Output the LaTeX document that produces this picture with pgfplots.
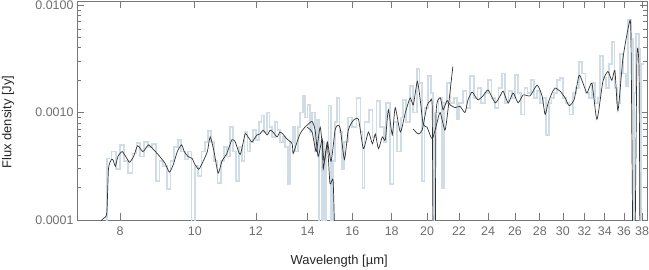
\documentclass[border=0pt]{standalone}
\usepackage{fontspec}
\setmainfont{Liberation Sans}
\usepackage{pgfplots}
\pgfplotsset{compat=1.18}
\definecolor{specblue}{RGB}{208,221,230}
\definecolor{axgray}{RGB}{120,120,120}
\definecolor{tickgray}{RGB}{110,110,110}
\definecolor{linegray}{RGB}{50,50,50}
\begin{document}
\begin{tikzpicture}
\begin{axis}[
  scale only axis, width=570bp, height=219bp,
  xmode=log, ymode=log,
  xmin=7.035, xmax=38.57, ymin=1e-4, ymax=0.0109,
  axis line style={axgray, line width=0.8pt},
  every tick/.style={axgray, line width=0.7pt},
  tick align=inside,
  major tick length=7bp, minor tick length=4.5bp,
  xtick={8,10,12,14,16,18,20,22,24,26,28,30,32,34,36,38},
  xticklabels={8,10,12,14,16,18,20,22,24,26,28,30,32,34,36,38},
  xminorticks=false,
  ytick={0.0001,0.001,0.01},
  yticklabels={0.0001,0.0010,0.0100},
  minor ytick={2e-4,3e-4,4e-4,5e-4,6e-4,7e-4,8e-4,9e-4,2e-3,3e-3,4e-3,5e-3,6e-3,7e-3,8e-3,9e-3},
  tick label style={font=\fontsize{12.5}{14}\selectfont, text=tickgray},
  xticklabel style={yshift=-3bp},
  label style={font=\fontsize{13}{15}\selectfont, text=black!85},
  xlabel={Wavelength [µm]},
  ylabel={Flux density [Jy]},
  xlabel style={at={(axis description cs:0.46,-0.187)}, anchor=center},
  ylabel style={at={(axis description cs:-0.121,0.447)}, anchor=center},
  clip=true,
]
% light blue binned spectrum
\addplot[const plot, specblue, line width=1.8pt] coordinates {
(7.60,8e-5)(7.70,3.73e-4)(7.80,4.33e-4)(7.90,2.97e-4)(8.00,5.01e-4)(8.10,3.51e-4)(8.20,2.73e-4)
(8.30,4.15e-4)(8.40,5.23e-4)(8.50,3.90e-4)(8.60,5.34e-4)(8.70,4.81e-4)(8.80,5.12e-4)(8.90,2.31e-4)
(9.00,3.51e-4)(9.10,3.16e-4)(9.20,1.95e-4)(9.30,3.51e-4)(9.40,4.81e-4)(9.50,5.57e-4)(9.60,4.33e-4)
(9.70,3.66e-4)(9.80,4.33e-4)(9.90,8e-5)(10.00,3.16e-4)(10.10,2.56e-4)(10.20,4.33e-4)(10.30,5.34e-4)
(10.40,6.72e-4)(10.50,5.34e-4)(10.60,3.51e-4)(10.70,2.21e-4)(10.80,3.51e-4)(10.90,4.81e-4)
(11.00,3.90e-4)(11.10,7.31e-4)(11.20,4.33e-4)(11.30,2.31e-4)(11.40,4.81e-4)(11.50,3.51e-4)
(11.60,6.58e-4)(11.70,4.33e-4)(11.80,5.34e-4)(11.90,6.86e-4)(12.00,5.57e-4)(12.10,8.11e-4)
(12.20,9.4e-4)(12.30,6.58e-4)(12.40,1.00e-3)(12.50,7.31e-4)(12.60,5.93e-4)(12.70,8.11e-4)
(12.80,6.86e-4)(12.90,5.34e-4)(13.00,5.93e-4)(13.10,4.81e-4)(13.20,2.17e-4)(13.30,5.34e-4)
(13.40,7.31e-4)(13.50,4.33e-4)(13.60,7.31e-4)(13.70,1.00e-3)(13.80,1.43e-3)(13.90,9.0e-4)
(14.00,1.18e-3)(14.10,6.58e-4)(14.20,1.00e-3)(14.30,4.33e-4)(14.40,8.45e-4)(14.50,8e-5)
(14.60,5.34e-4)(14.70,8e-5)(14.80,4.33e-4)(14.90,1.16e-3)(15.00,8e-5)(15.10,3.51e-4)
(15.20,8.11e-4)(15.30,1.37e-3)(15.40,6.58e-4)(15.50,2.97e-4)(15.60,5.34e-4)(15.80,9.0e-4)
(16.00,7.31e-4)(16.20,1.37e-3)(16.40,6.58e-4)(16.50,1.99e-4)(16.60,8.11e-4)(16.80,1.06e-3)
(17.00,5.93e-4)(17.20,1.29e-3)(17.40,7.31e-4)(17.60,5.34e-4)(17.70,1.23e-3)(17.90,2.17e-4)
(18.10,8.11e-4)(18.30,4.33e-4)(18.50,9.0e-4)(18.60,1.31e-3)(18.80,8.11e-4)(19.00,1.76e-3)
(19.20,1.00e-3)(19.40,2.56e-3)(19.55,1.87e-3)(19.70,2.31e-4)(19.85,1.11e-3)(20.05,2.17e-3)
(20.25,1.52e-3)(20.35,8e-5)(20.50,1.00e-3)(20.70,1.37e-3)(20.90,1.99e-4)(21.05,1.23e-3)
(21.25,1.87e-3)(21.45,1.23e-3)(21.65,1.37e-3)(21.85,8.64e-4)(22.00,1.23e-3)(22.25,1.58e-3)
(22.50,1.11e-3)(22.75,2.17e-3)(23.00,1.37e-3)(23.25,1.69e-3)(23.50,1.23e-3)(23.75,1.52e-3)
(24.00,2.00e-3)(24.25,1.37e-3)(24.50,1.11e-3)(24.75,1.69e-3)(25.00,2.31e-3)(25.25,1.23e-3)
(25.50,1.58e-3)(25.75,1.37e-3)(26.00,2.22e-3)(26.25,1.52e-3)(26.50,9.59e-4)(26.75,1.69e-3)
(27.00,1.52e-3)(27.25,2.00e-3)(27.50,1.37e-3)(27.75,1.58e-3)(28.00,1.23e-3)(28.25,1.37e-3)
(28.50,6.18e-4)(28.75,1.23e-3)(29.00,1.37e-3)(29.25,1.52e-3)(29.50,2.00e-3)(29.75,2.08e-3)
(30.00,1.37e-3)(30.30,1.23e-3)(30.60,9.59e-4)(30.90,1.52e-3)(31.20,1.69e-3)(31.50,2.97e-3)
(31.80,2.31e-3)(32.10,1.52e-3)(32.40,1.37e-3)(32.70,1.87e-3)(33.00,1.23e-3)(33.30,1.37e-3)
(33.50,3.37e-3)(33.80,2.08e-3)(34.10,1.69e-3)(34.40,2.85e-3)(34.70,4.51e-3)(35.00,1.69e-3)
(35.30,1.23e-3)(35.60,3.51e-3)(35.90,2.31e-3)(36.20,1.76e-3)(36.45,7.31e-3)(36.75,4.81e-3)
(36.95,8e-5)(37.15,1.52e-3)(37.35,5.34e-3)(37.65,3.90e-3)(37.75,8e-5)(37.90,2.85e-3)(38.20,2.85e-3)
};
% dark smoothed spectrum, short module
\addplot[linegray, line width=0.7pt, smooth, tension=0.35] coordinates {
(7.40,5e-5)(7.55,9.5e-5)(7.62,1.04e-4)(7.69,1.16e-4)(7.73,3.03e-4)(7.80,3.66e-4)(7.84,3.58e-4)
(7.89,3.16e-4)(7.95,3.90e-4)(8.05,4.33e-4)(8.18,3.66e-4)(8.23,3.44e-4)(8.33,3.90e-4)(8.43,4.91e-4)
(8.56,4.33e-4)(8.63,4.61e-4)(8.71,5.01e-4)(8.84,4.52e-4)(8.96,4.07e-4)(9.07,3.66e-4)(9.15,3.37e-4)
(9.27,2.79e-4)(9.38,3.30e-4)(9.49,4.33e-4)(9.61,5.01e-4)(9.69,4.33e-4)(9.80,3.90e-4)(9.92,3.73e-4)
(10.00,3.30e-4)(10.12,2.97e-4)(10.25,3.51e-4)(10.38,4.33e-4)(10.47,5.93e-4)(10.59,4.33e-4)
(10.72,2.73e-4)(10.84,3.51e-4)(11.00,4.15e-4)(11.17,5.57e-4)(11.28,5.34e-4)(11.45,4.07e-4)
(11.62,6.32e-4)(11.72,5.93e-4)(11.86,5.34e-4)(12.04,6.19e-4)(12.15,6.32e-4)(12.26,6.86e-4)
(12.41,6.19e-4)(12.52,6.86e-4)(12.63,6.58e-4)(12.78,5.93e-4)(12.89,6.58e-4)(13.00,6.32e-4)
(13.16,5.69e-4)(13.37,5.12e-4)(13.41,4.15e-4)(13.57,5.34e-4)(13.69,6.32e-4)(13.82,7.01e-4)
(13.98,7.62e-4)(14.19,8.27e-4)(14.32,6.86e-4)(14.45,3.90e-4)(14.63,5.69e-4)(14.67,2.97e-4)
(14.85,5.01e-4)(14.97,2.17e-4)(15.11,2.31e-4)(15.20,5e-5)
};
% dark smoothed spectrum, long module 2
\addplot[linegray, line width=0.7pt, smooth, tension=0.35] coordinates {
(13.98,7.3e-4)(14.19,6.58e-4)(14.37,4.33e-4)(14.54,7.31e-4)(14.71,3.51e-4)(14.85,5.34e-4)
(15.02,3.51e-4)(15.20,6.86e-4)(15.33,7.62e-4)(15.44,7.01e-4)(15.63,3.66e-4)(15.81,6.86e-4)
(16.05,8.45e-4)(16.30,8.63e-4)(16.54,4.61e-4)(16.79,6.58e-4)(16.99,5.12e-4)(17.14,6.32e-4)
(17.30,4.61e-4)(17.50,5.93e-4)(17.66,5.57e-4)(17.82,1.06e-3)(18.03,6.19e-4)(18.19,1.11e-3)
(18.47,6.58e-4)(18.75,1.00e-3)(19.02,1.37e-3)(19.20,1.18e-3)(19.43,1.95e-3)(19.60,1.31e-3)
(19.77,7.77e-4)(20.00,7.31e-4)(20.31,5.69e-4)(20.61,8.11e-4)(20.80,1.00e-3)(21.10,6.86e-4)
(21.29,1.06e-3)(21.60,2.67e-3)
};
% dark smoothed spectrum, long module 1
\addplot[linegray, line width=0.7pt, smooth, tension=0.35] coordinates {
(19.20,7.01e-4)(19.48,6.32e-4)(19.71,6.86e-4)(20.00,1.16e-3)(20.18,1.27e-3)(20.31,1.11e-3)
(20.37,5e-5)(20.49,5e-5)(20.55,1.00e-3)(20.80,1.37e-3)(20.98,1.06e-3)(21.23,1.29e-3)
(21.42,1.18e-3)(21.74,1.11e-3)(22.07,1.14e-3)(22.40,1.00e-3)(22.60,1.31e-3)(22.87,1.55e-3)
(23.07,1.43e-3)(23.29,1.31e-3)(23.64,1.43e-3)(24.00,1.62e-3)(24.51,1.23e-3)(24.88,1.43e-3)
(25.10,1.58e-3)(25.48,1.23e-3)(25.86,1.52e-3)(26.25,1.23e-3)(26.65,1.46e-3)(27.20,1.43e-3)
(27.78,1.80e-3)(28.19,1.43e-3)(28.45,9.6e-4)(28.71,1.23e-3)(29.04,1.52e-3)(29.31,1.69e-3)
(29.75,1.58e-3)(30.20,1.37e-3)(30.56,1.16e-3)(31.02,1.31e-3)(31.49,2.22e-3)(31.86,1.87e-3)
(32.24,1.52e-3)(32.72,1.87e-3)(33.21,8.63e-4)(33.81,1.95e-3)(34.32,2.41e-3)(34.73,1.99e-3)
(35.04,2.46e-3)(35.36,1.04e-3)(35.89,3.16e-3)(36.54,6.58e-3)(36.76,5.34e-3)(36.98,5e-5)
(37.20,5e-5)(37.43,3.30e-3)(37.66,2.46e-3)(37.77,5e-5)
};
\end{axis}
\pgfresetboundingbox
\path (current axis.south west) +(-77bp,-50bp) (current axis.north east) +(2bp,1bp);
\end{tikzpicture}
\end{document}
